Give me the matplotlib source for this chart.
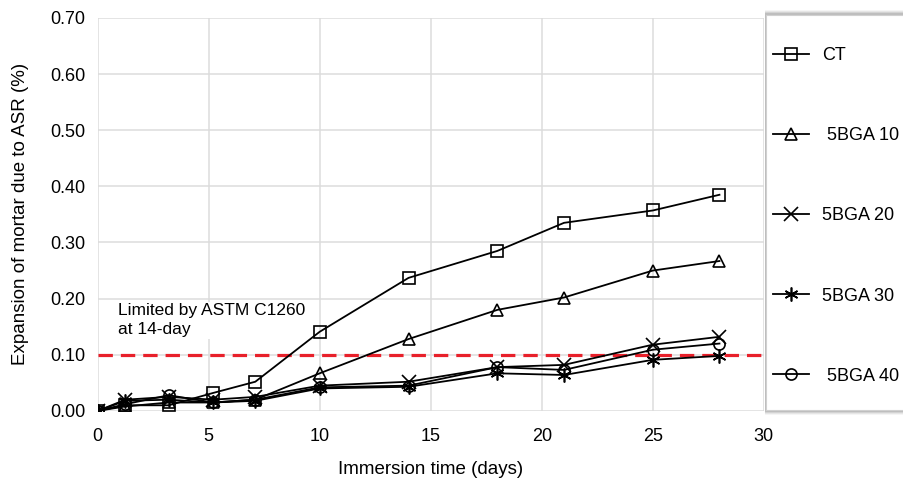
import matplotlib
matplotlib.use("Agg")
import matplotlib.pyplot as plt
from matplotlib.patches import Rectangle
import numpy as np

plt.rcParams['font.family'] = ['Liberation Sans', 'DejaVu Sans']

# 数据
days = [0, 1.25, 3.2, 5.2, 7.1, 10, 14, 18, 21, 25, 28]
ct = [0.0, 0.010, 0.010, 0.032, 0.052, 0.141, 0.237, 0.285, 0.335, 0.357, 0.385]
bga10 = [0.0, 0.008, 0.015, 0.015, 0.020, 0.067, 0.128, 0.180, 0.202, 0.250, 0.267]
bga20 = [0.0, 0.020, 0.025, 0.020, 0.025, 0.045, 0.052, 0.078, 0.082, 0.118, 0.132]
bga30 = [0.0, 0.018, 0.020, 0.015, 0.018, 0.040, 0.043, 0.067, 0.064, 0.091, 0.098]
bga40 = [0.0, 0.012, 0.028, 0.015, 0.020, 0.042, 0.045, 0.078, 0.073, 0.109, 0.120]
labels = ["CT", " 5BGA 10", "5BGA 20", "5BGA 30", " 5BGA 40"]
markers = ["s", "^", "x", (6, 2, 0), "o"]
msizes = [8, 9, 10, 10, 8]
limit = 0.10

fig = plt.figure(figsize=(9.04, 4.84), dpi=100)
ax = fig.add_axes([0.108, 0.151, 0.737, 0.812])

series = [ct, bga10, bga20, bga30, bga40]
for ys, lab, m, ms in zip(series, labels, markers, msizes):
    ax.plot(days, ys, color="black", lw=1.3, marker=m, markersize=ms,
            markerfacecolor="none", markeredgecolor="black", markeredgewidth=1.2,
            label=lab, zorder=3)

# 限值线
ax.axhline(limit, color="#e8202a", lw=2.3, ls=(0, (4.5, 2.5)), zorder=2)
ax.text(0.9, 0.192, "Limited by ASTM C1260\nat 14-day", fontsize=12.5,
        va="top", ha="left", linespacing=1.35,
        bbox=dict(facecolor="white", edgecolor="none", pad=1))

ax.set_xlim(0, 30)
ax.set_ylim(0, 0.70)
ax.set_xticks(np.arange(0, 31, 5))
ax.set_yticks(np.arange(0, 0.71, 0.1))
ax.set_yticklabels(["%.2f" % v for v in np.arange(0, 0.71, 0.1)])
ax.grid(True, color="#dcdcdc", lw=1.1)
ax.set_axisbelow(True)
for s in ax.spines.values():
    s.set_visible(False)
ax.tick_params(axis="y", length=0, labelsize=13, pad=9)
ax.tick_params(axis="x", length=0, labelsize=13, pad=12)
ax.set_xlabel("Immersion time (days)", fontsize=13.5, labelpad=12)
ax.set_ylabel("Expansion of mortar due to ASR (%)", fontsize=13.5, labelpad=15)

# 图例框(带阴影)
W, H = 904.0, 484.0
x0, y0, x1, y1 = 766, 15, 910, 410
for i, a in enumerate([0.08, 0.12, 0.18, 0.25]):
    d = 5 - i
    fig.patches.append(Rectangle(((x0 - 1) / W, 1 - (y1 + d) / H), (x1 - x0 + 2) / W,
                                 (y1 - y0 + 2 * d) / H, transform=fig.transFigure,
                                 facecolor="#808080", edgecolor="none", alpha=a, zorder=0))
fig.patches.append(Rectangle((x0 / W, 1 - y1 / H), (x1 - x0) / W, (y1 - y0) / H,
                             transform=fig.transFigure, facecolor="white",
                             edgecolor="#d0d0d0", lw=0.8, zorder=1))

leg = fig.legend(loc="upper left", bbox_to_anchor=(773 / W, 1 - 47 / H), frameon=False,
                 fontsize=13, labelspacing=3.5, handlelength=2.0, handletextpad=0.7,
                 borderpad=0, borderaxespad=0)

plt.savefig("out.png", dpi=100)
